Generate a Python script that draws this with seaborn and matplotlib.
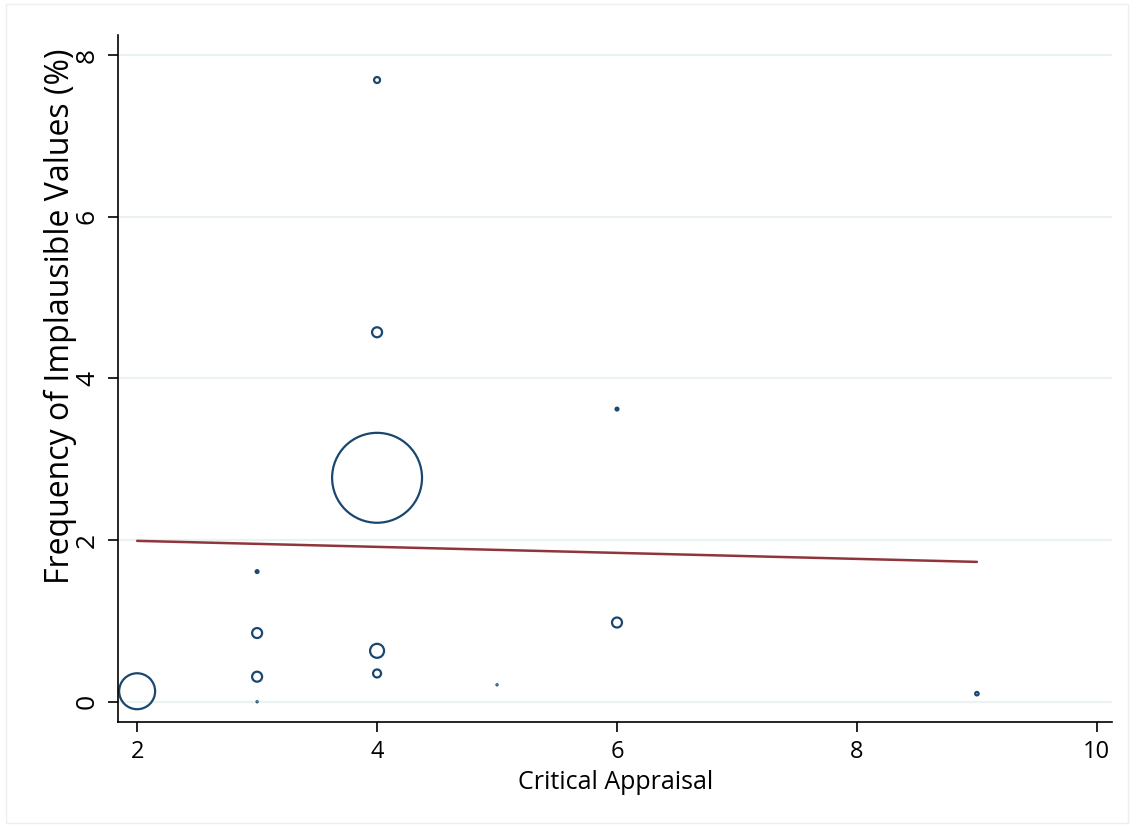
import matplotlib.pyplot as plt
import seaborn as sns
import pandas as pd
import numpy as np

# Data
appraisal = [2, 3, 3, 3, 3, 4, 4, 4, 4, 4, 5, 6, 6, 9]
implausible = [0.13, 1.61, 0.85, 0.31, 0.0, 7.69, 4.57, 2.77, 0.63, 0.35, 0.21, 3.62, 0.98, 0.10]
weight = [324, 2, 25, 25, 0.3, 9, 25, 2025, 49, 16, 0.3, 2, 25, 3]

# fitted line endpoints
fit_x = [2, 9]
fit_y = [1.99, 1.73]

df = pd.DataFrame({"appraisal": appraisal, "implausible": implausible, "weight": weight})

sns.set_theme(style="white")
plt.rcParams['font.family'] = ['Open Sans', 'DejaVu Sans']

navy = "#1a476f"
maroon = "#90353b"

fig = plt.figure(figsize=(11.34, 8.27), dpi=100)
ax = fig.add_axes([0.104, 0.127, 0.877, 0.831])

# marker area proportional to weight
k = 2.07
sns.scatterplot(data=df, x="appraisal", y="implausible", size="weight",
                sizes=(k * min(weight), k * max(weight)), legend=False,
                facecolor="none", edgecolor=navy, linewidth=1.6, ax=ax)
sns.lineplot(x=fit_x, y=fit_y, color=maroon, linewidth=1.8, ax=ax)

ax.set_xlim(1.84, 10.13)
ax.set_ylim(-0.25, 8.25)
ax.set_xticks([2, 4, 6, 8, 10])
ax.set_yticks([0, 2, 4, 6, 8])
ax.yaxis.grid(True, color="#eaf2f3", linewidth=1.6)
ax.set_axisbelow(True)
for s in ["top", "right"]:
    ax.spines[s].set_visible(False)
for s in ["left", "bottom"]:
    ax.spines[s].set_color("black")
    ax.spines[s].set_linewidth(1.2)
ax.tick_params(axis="both", direction="out", length=7, width=1.2, color="black",
               labelcolor="black", left=True, bottom=True)
ax.tick_params(axis="x", labelsize=17, pad=6)
ax.tick_params(axis="y", labelsize=19, pad=6)
plt.setp(ax.get_yticklabels(), rotation=90, va="center")
ax.set_xlabel("Critical Appraisal", fontsize=18, color="black")
ax.set_ylabel("Frequency of Implausible Values (%)", fontsize=23, color="black")
ax.xaxis.set_label_coords(0.5, -0.07)
ax.yaxis.set_label_coords(-0.041, 0.591)

# light frame around the figure
fig.patches.append(plt.Rectangle((0.005, 0.005), 0.99, 0.99, transform=fig.transFigure,
                                 fill=False, edgecolor="#eeeeee", linewidth=1))

fig.savefig("out.png", dpi=100)
